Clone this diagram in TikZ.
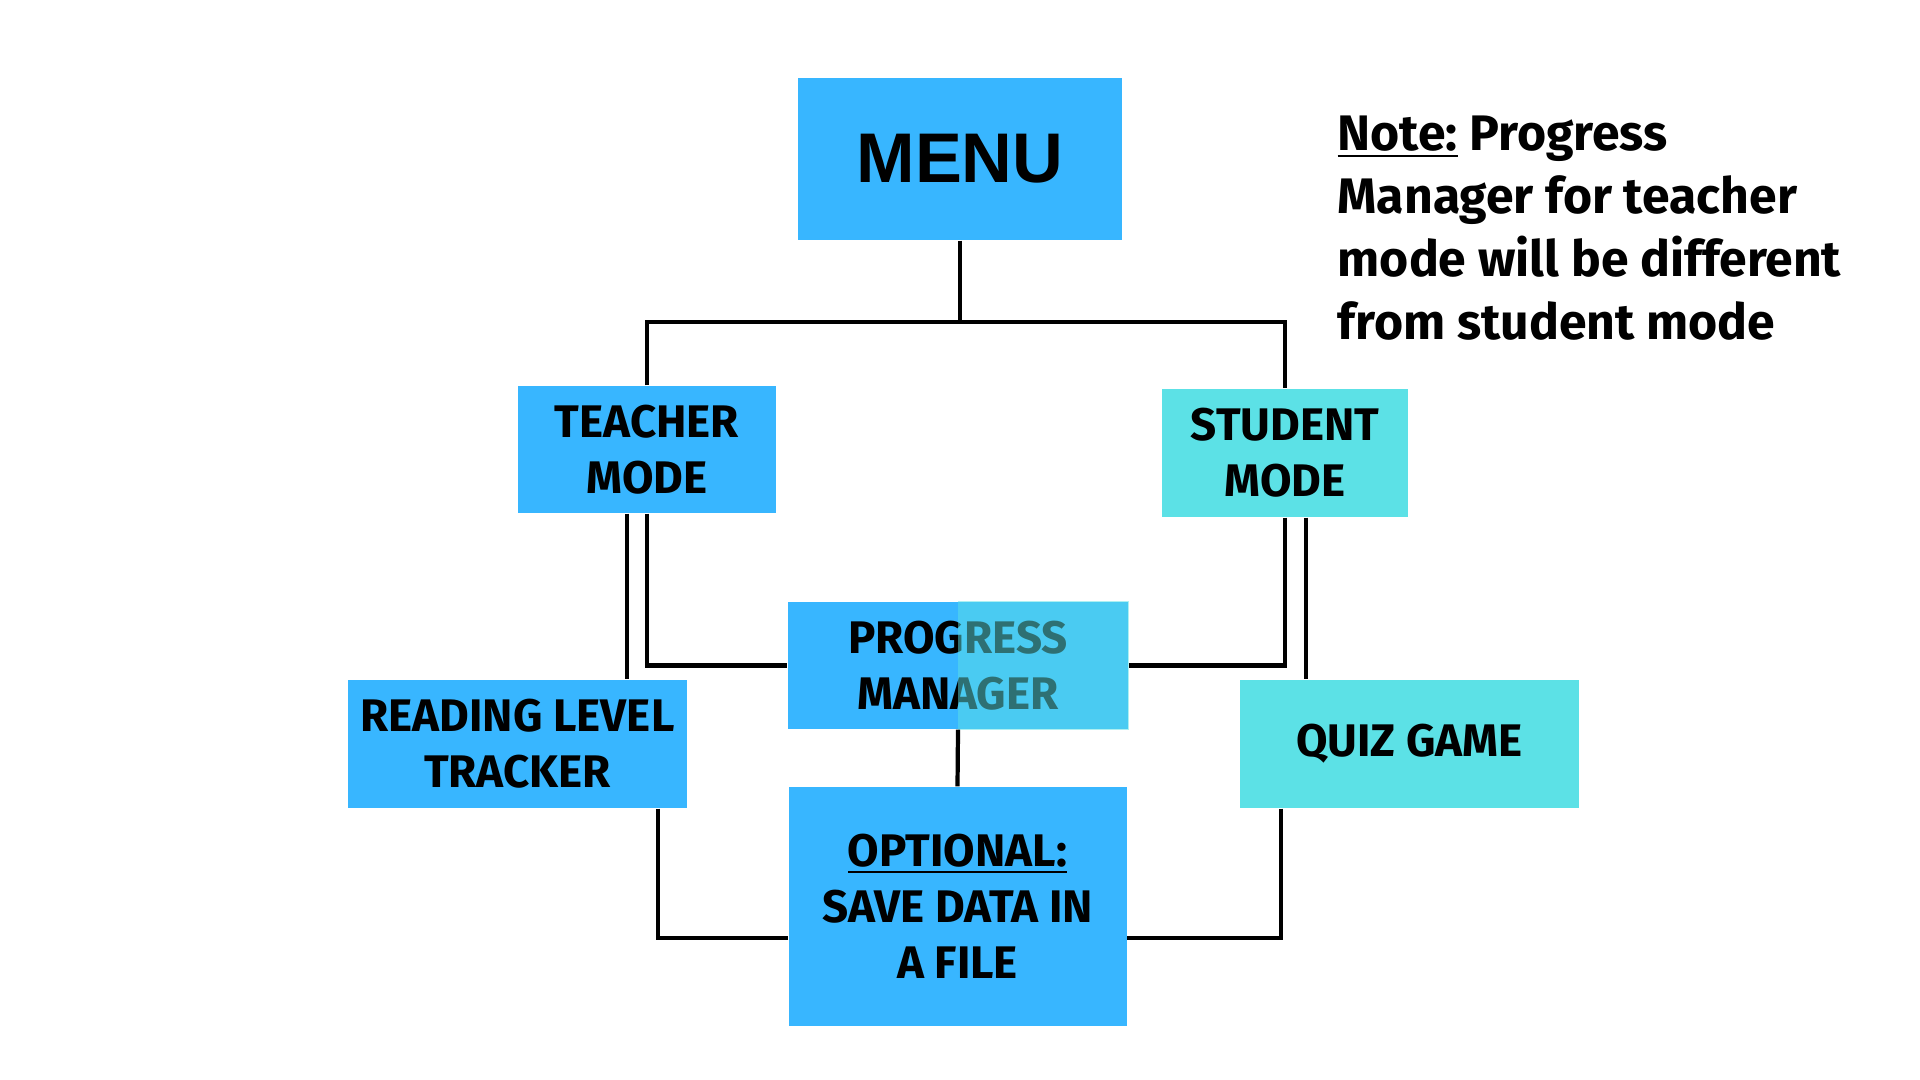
\documentclass[tikz,border=0pt]{standalone}
\usepackage{fontspec}
\setmainfont{Fira Sans}
\newfontfamily\menufont{Liberation Sans}
\usetikzlibrary{positioning}
\definecolor{boxblue}{HTML}{38B6FF}
\definecolor{boxcyan}{HTML}{5CE1E6}

\begin{document}
\begin{tikzpicture}[
        every node/.style={font=\bfseries},
        box/.style={rectangle, inner sep=0pt, align=center, text=black, font=\bfseries\fontsize{13}{16}\selectfont},
        link/.style={line width=1.2pt, black}
    ]
%
    \useasboundingbox (0,0) rectangle (19.2,10.8);
%
    % Boxes
    \node[box, fill=boxblue, minimum width=3.24cm, minimum height=1.62cm, font=\menufont\bfseries\fontsize{20}{24}\selectfont] (menu) at (9.60,9.21) {MENU};
    \node[box, fill=boxblue, minimum width=2.58cm, minimum height=1.27cm] (teacher) at (6.47,6.305) {TEACHER\\MODE};
    \node[box, fill=boxcyan, minimum width=2.46cm, minimum height=1.28cm] (student) at (12.85,6.27) {STUDENT\\MODE};
    \node[box, fill=boxblue, minimum width=3.40cm, minimum height=1.27cm] (progress) at (9.58,4.145) {PROGRESS\\MANAGER};
    \fill[boxcyan, opacity=0.5] (progress.south) rectangle (progress.north east);
    \node[box, fill=boxblue, minimum width=3.39cm, minimum height=1.28cm] (reading) at (5.175,3.36) {READING LEVEL\\TRACKER};
    \node[box, fill=boxcyan, minimum width=3.39cm, minimum height=1.28cm] (quiz) at (14.095,3.36) {QUIZ GAME};
    \node[box, fill=boxblue, minimum width=3.38cm, minimum height=2.39cm] (optional) at (9.575,1.735) {\underline{OPTIONAL:}\\SAVE DATA IN\\A FILE};
%
    % Note
    \node[anchor=north west, align=left, inner sep=0pt, font=\bfseries\fontsize{14.2}{17.9}\selectfont] (note) at (13.37,9.65) {\underline{Note:} Progress\\Manager for teacher\\mode will be different\\from student mode};
%
    % Connectors
    \draw[link] (menu.south) -- ++(0,-0.81) coordinate (bus);
    \draw[link] (teacher.north) |- (bus) -| (student.north);
    \draw[link] ([xshift=-0.2cm]teacher.south) -- ([xshift=-0.2cm]teacher.south |- reading.north);
    \draw[link] (teacher.south) |- (progress.west);
    \draw[link] (student.south) |- (progress.east);
    \draw[link] ([xshift=0.21cm]student.south) -- ([xshift=0.21cm]student.south |- quiz.north);
    \draw[link] (progress.south) -- (optional.north);
    \draw[link] ([xshift=-0.3cm]reading.south east) |- ([yshift=-0.315cm]optional.west);
    \draw[link] ([xshift=0.42cm]quiz.south west) |- ([yshift=-0.315cm]optional.east);
%
\end{tikzpicture}
\end{document}
